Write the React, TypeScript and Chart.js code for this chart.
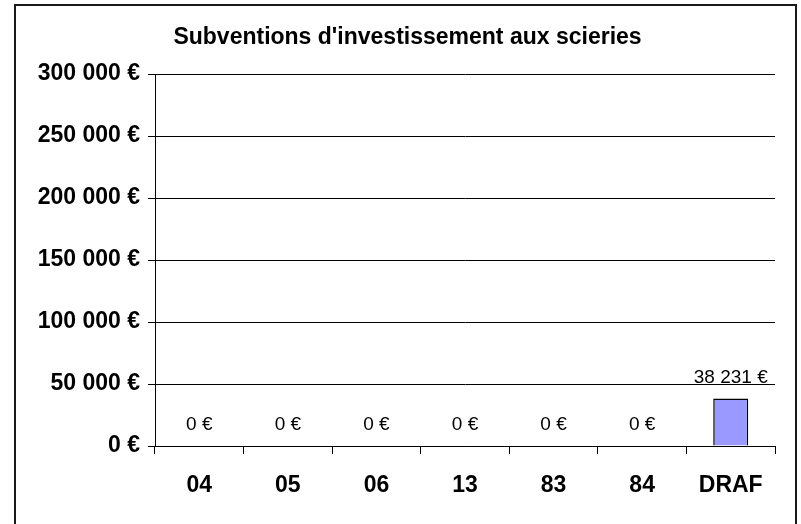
import React, { useEffect, useRef } from "react";
import { Chart, registerables } from "chart.js";

Chart.register(...registerables);

const TITLE = "Subventions d'investissement aux scieries";
const CATEGORIES = ["04", "05", "06", "13", "83", "84", "DRAF"];
const VALUES = [0, 0, 0, 0, 0, 0, 38231];
const Y_MIN = 0;
const Y_MAX = 300000;
const Y_STEP = 50000;

const FONT = "'Liberation Sans', Arial, sans-serif";

const fmtEuro = (v: number) => {
  const s = Math.round(v).toString().replace(/\B(?=(\d{3})+(?!\d))/g, " ");
  return s + " €";
};

const framePlugin = {
  id: "frame",
  beforeDraw(chart: any) {
    const ctx = chart.ctx;
    ctx.save();
    ctx.fillStyle = "#ffffff";
    ctx.fillRect(0, 0, chart.width, chart.height);
    ctx.strokeStyle = "#1a1a1a";
    ctx.lineWidth = 2;
    ctx.strokeRect(15, 5, 781, 540);
    ctx.fillStyle = "#000";
    ctx.font = `bold 23px ${FONT}`;
    ctx.textAlign = "center";
    ctx.textBaseline = "middle";
    ctx.fillText(TITLE, 407.5, 38);
    ctx.restore();
  },
};

const labelPlugin = {
  id: "valueLabels",
  afterDatasetsDraw(chart: any) {
    const ctx = chart.ctx;
    const meta = chart.getDatasetMeta(0);
    const data = chart.data.datasets[0].data as number[];
    ctx.save();
    ctx.fillStyle = "#000";
    ctx.font = `19px ${FONT}`;
    ctx.textAlign = "center";
    ctx.textBaseline = "middle";
    meta.data.forEach((el: any, i: number) => {
      ctx.fillText(fmtEuro(data[i]), el.x, el.y - 21);
    });
    ctx.restore();
  },
};

export default function App() {
  const ref = useRef<HTMLCanvasElement | null>(null);
  useEffect(() => {
    if (!ref.current) return;
    const chart = new Chart(ref.current, {
      type: "bar",
      data: {
        labels: CATEGORIES,
        datasets: [
          {
            data: VALUES,
            backgroundColor: "#9999FF",
            borderColor: "#000000",
            borderWidth: 1.5,
            barPercentage: 0.395,
            categoryPercentage: 1,
          },
        ],
      },
      options: {
        responsive: false,
        animation: false,
        devicePixelRatio: 1,
        layout: { padding: { top: 74, right: 26, bottom: 0, left: 0 } },
        plugins: {
          legend: { display: false },
          title: { display: false },
          tooltip: { enabled: false },
        },
        scales: {
          x: {
            offset: true,
            grid: {
              offset: true,
              drawOnChartArea: false,
              drawTicks: true,
              tickLength: 8,
              color: "#000",
              lineWidth: 1,
            },
            border: { color: "#000", width: 1 },
            ticks: {
              color: "#000",
              font: { family: FONT, size: 23, weight: "bold" },
              padding: 18,
            },
            afterFit: (s: any) => {
              s.height = 78;
            },
          },
          y: {
            min: Y_MIN,
            max: Y_MAX,
            grid: {
              color: "#000",
              lineWidth: 1,
              tickLength: 7,
            },
            border: { color: "#000", width: 1 },
            ticks: {
              stepSize: Y_STEP,
              color: "#000",
              font: { family: FONT, size: 23, weight: "bold" },
              padding: 8,
              callback: (v: any) => fmtEuro(Number(v)),
            },
            afterFit: (s: any) => {
              s.width = 155;
            },
          },
        },
      },
      plugins: [framePlugin, labelPlugin],
    });
    return () => chart.destroy();
  }, []);
  return (
    <div style={{ position: "fixed", left: 0, top: 0, width: 801, height: 524, background: "#fff" }}>
      <canvas ref={ref} width={801} height={524} style={{ display: "block" }} />
    </div>
  );
}
